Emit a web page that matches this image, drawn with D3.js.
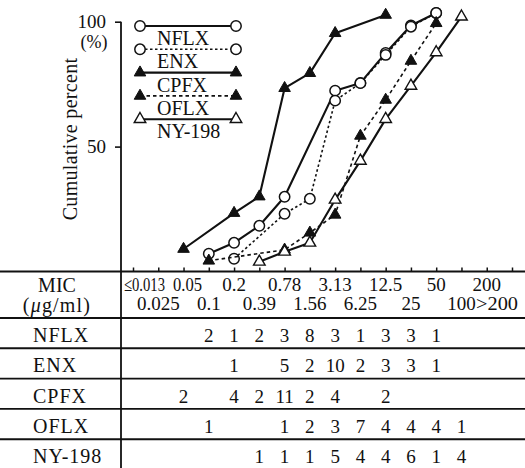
<!DOCTYPE html>
<html>
<head>
<meta charset="utf-8">
<script src="https://cdn.jsdelivr.net/npm/d3@7"></script>
<style>
  html, body { margin: 0; padding: 0; background: #fff; }
  svg { display: block; }
  text { font-family: "Liberation Serif", "DejaVu Serif", "Times New Roman", serif; fill: #111; }
</style>
</head>
<body>
<svg id="chart" width="525" height="468" font-family="Liberation Serif, serif"></svg>
<script>
// MIC classes (µg/ml)
const categories = ["≤0.013", "0.025", "0.05", "0.1", "0.2", "0.39", "0.78", "1.56",
                    "3.13", "6.25", "12.5", "25", "50", "100", "200", ">200"];
const seriesNames = ["NFLX", "ENX", "CPFX", "OFLX", "NY-198"];
const yTicks = [50, 100];

// Number of strains at each MIC
const nflxCounts = [null, null, null, 2, 1, 2, 3, 8, 3, 1, 3, 3, 1, null, null, null];
const enxCounts  = [null, null, null, null, 1, null, 5, 2, 10, 2, 3, 3, 1, null, null, null];
const cpfxCounts = [null, null, 2, null, 4, 2, 11, 2, 4, null, 2, null, null, null, null, null];
const oflxCounts = [null, null, null, 1, null, null, 1, 2, 3, 7, 4, 4, 4, 1, null, null];
const ny198Counts = [null, null, null, null, null, 1, 1, 1, 5, 4, 4, 6, 1, 4, null, null];

// Cumulative percent curves
const nflxPct = [null, null, null, 7.1, 11.5, 18.3, 29.9, null, 72.4, 75.5, 87.5, 98.5, 103.5, null, null, null];
const enxPct  = [null, null, null, null, 5.1, null, 23.1, 29.1, 68.4, 75.4, 86.7, 98, 103.5, null, null, null];
const cpfxPct = [null, null, 9, null, 23.4, 30, 73.4, 79.4, 95.4, null, 102.7, null, null, null, null, null];
const oflxPct = [null, null, null, 4.3, null, null, 8.7, 15.5, 22.7, 54.3, 68.7, 84.3, 99.4, null, null, null];
const ny198Pct = [null, null, null, null, null, 3.9, 7.9, 11.5, 28.7, 44.3, 61, 74.3, 87.7, 102, null, null];

const counts = [nflxCounts, enxCounts, cpfxCounts, oflxCounts, ny198Counts];
const pcts = [nflxPct, enxPct, cpfxPct, oflxPct, ny198Pct];

// Drawing styles per drug
const styles = {
  "NFLX":   { marker: "circle",   filled: false, dash: null,      width: 2.1 },
  "ENX":    { marker: "circle",   filled: false, dash: "2.5,2.5", width: 1.6 },
  "CPFX":   { marker: "triangle", filled: true,  dash: null,      width: 2.1 },
  "OFLX":   { marker: "triangle", filled: true,  dash: "3.5,3",   width: 1.6 },
  "NY-198": { marker: "triangle", filled: false, dash: null,      width: 2.1 }
};

const W = 525, H = 468;
const ink = "#111";
const svg = d3.select("#chart");
svg.append("rect").attr("width", W).attr("height", H).attr("fill", "#fff");

const axisX = 121;
const x = d3.scalePoint().domain(categories).range([133, 512]);
const y = d3.scaleLinear().domain([0, 100]).range([271.5, 21.7]);
const rows = d3.scaleBand().domain(seriesNames).range([318, 469.5]);

// ---- y axis ----
const yAxis = d3.axisLeft(y).tickValues(yTicks).tickSize(6).tickPadding(9);
const gy = svg.append("g").attr("transform", `translate(${axisX},0)`).call(yAxis);
gy.attr("font-family", null);
gy.select(".domain").remove();
gy.selectAll(".tick line").attr("stroke", ink).attr("stroke-width", 1.6);
gy.selectAll(".tick text")
  .style("font-size", "19px").attr("fill", ink);
svg.append("text").attr("x", 94).attr("y", 48).attr("text-anchor", "middle")
  .style("font-size", "18px").text("(%)");

// vertical rule: y axis continuing down as the table divider
svg.append("line").attr("x1", axisX).attr("x2", axisX)
  .attr("y1", y(100)).attr("y2", H)
  .attr("stroke", ink).attr("stroke-width", 1.8);

svg.append("text")
  .attr("transform", `translate(77,139) rotate(-90)`)
  .attr("text-anchor", "middle")
  .style("font-size", "20px")
  .style("letter-spacing", "0.3px")
  .text("Cumulative percent");

// ---- x axis ticks (pointing up into the plot) ----
const xAxis = d3.axisBottom(x).tickSize(-4).tickFormat("");
const gx = svg.append("g").attr("transform", `translate(0,${y(0)})`).call(xAxis);
gx.select(".domain").remove();
gx.selectAll(".tick line").attr("stroke", ink).attr("stroke-width", 1.5);

// ---- table rules ----
const ruleYs = [y(0)].concat(seriesNames.map(n => rows(n)));
svg.selectAll("line.rule").data(ruleYs).join("line")
  .attr("class", "rule")
  .attr("x1", 0).attr("x2", W)
  .attr("y1", d => d).attr("y2", d => d)
  .attr("stroke", ink).attr("stroke-width", 1.9);

// ---- MIC header ----
svg.append("text").attr("x", 57).attr("y", 292).attr("text-anchor", "middle")
  .style("font-size", "20px").text("MIC");
const unit = svg.append("text").attr("x", 57).attr("y", 312).attr("text-anchor", "middle")
  .style("font-size", "20px").style("letter-spacing", "1.2px");
unit.append("tspan").text("(");
unit.append("tspan").style("font-style", "italic").text("μ");
unit.append("tspan").text("g/ml)");

// MIC class labels in two staggered rows; the crowded outer ones are packed tighter
const last = categories.length - 1;
const micLabels = svg.selectAll("text.mic").data(categories).join("text")
  .attr("class", "mic")
  .attr("x", (d, i) => i === 0 ? 124 : i === 2 ? x(d) + 4 : (i === last ? 518 : x(d)))
  .attr("y", (d, i) => i % 2 === 0 ? 291 : 310)
  .attr("text-anchor", (d, i) => i === 0 ? "start" : (i === last ? "end" : "middle"))
  .style("font-size", "19px")
  .text(d => d);
micLabels.filter((d, i) => i === 0)
  .attr("textLength", 41).attr("lengthAdjust", "spacingAndGlyphs");
micLabels.filter((d, i) => i === 2)
  .attr("textLength", 29).attr("lengthAdjust", "spacingAndGlyphs");
micLabels.filter((d, i) => i === last)
  .attr("textLength", 42).attr("lengthAdjust", "spacingAndGlyphs");

// ---- table rows ----
seriesNames.forEach((name, k) => {
  const top = rows(name);
  svg.append("text").attr("x", 33).attr("y", top + 24)
    .style("font-size", "20px").style("letter-spacing", "1px").text(name);
  const cells = categories.map((c, i) => ({ c, v: counts[k][i] })).filter(d => d.v !== null);
  svg.selectAll(null).data(cells).join("text")
    .attr("x", d => x(d.c)).attr("y", top + 24)
    .attr("text-anchor", "middle")
    .style("font-size", "19px")
    .text(d => d.v);
});

// ---- markers ----
const triPath = d3.symbol().type(d3.symbolTriangle).size(58);
function drawMarker(g, st, cx, cy) {
  if (st.marker === "circle") {
    g.append("circle").attr("cx", cx).attr("cy", cy).attr("r", 5.2)
      .attr("fill", "#fff").attr("stroke", ink).attr("stroke-width", 1.5);
  } else {
    g.append("path").attr("d", triPath()).attr("transform", `translate(${cx},${cy})`)
      .attr("fill", st.filled ? ink : "#fff")
      .attr("stroke", ink).attr("stroke-width", st.filled ? 1 : 1.4);
  }
}

// ---- cumulative curves ----
const line = d3.line().x(d => x(d.c)).y(d => y(d.v));
seriesNames.forEach((name, k) => {
  const st = styles[name];
  const pts = categories.map((c, i) => ({ c, v: pcts[k][i] })).filter(d => d.v !== null);
  const g = svg.append("g");
  g.append("path").datum(pts).attr("d", line)
    .attr("fill", "none").attr("stroke", ink)
    .attr("stroke-width", st.width)
    .attr("stroke-dasharray", st.dash)
    .attr("stroke-linejoin", "round");
  pts.forEach(p => drawMarker(g, st, x(p.c), y(p.v)));
});

// ---- legend ----
const legX1 = 140, legX2 = 236;
seriesNames.forEach((name, k) => {
  const st = styles[name];
  const ly = 26 + k * 23.3;
  const g = svg.append("g");
  g.append("line").attr("x1", legX1).attr("x2", legX2).attr("y1", ly).attr("y2", ly)
    .attr("stroke", ink).attr("stroke-width", st.width)
    .attr("stroke-dasharray", st.dash);
  drawMarker(g, st, legX1, ly);
  drawMarker(g, st, legX2, ly);
  g.append("text").attr("x", 157).attr("y", ly + 19)
    .style("font-size", "20px").text(name);
});
</script>
</body>
</html>
